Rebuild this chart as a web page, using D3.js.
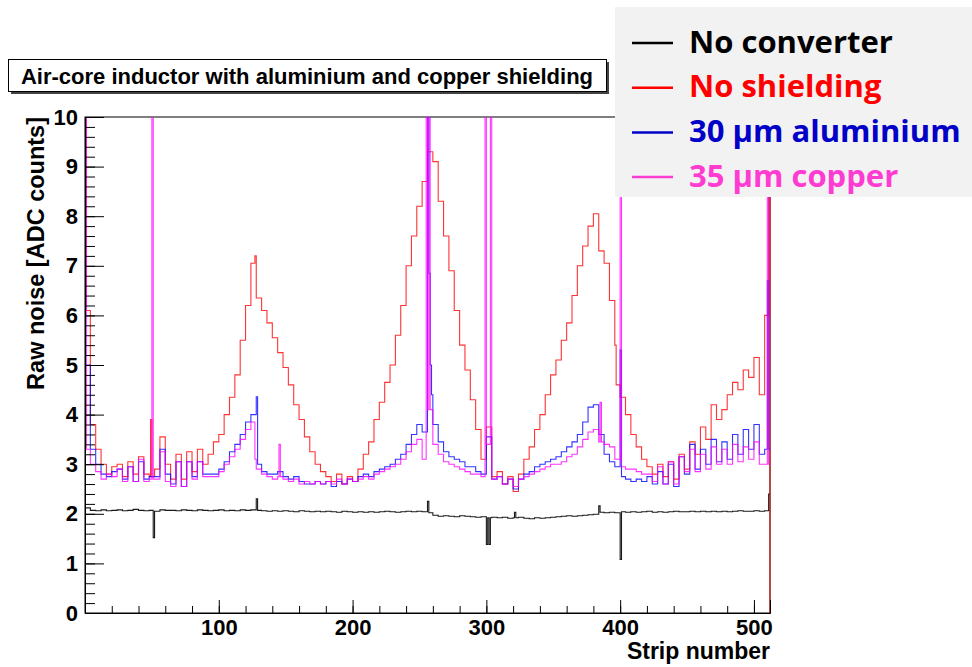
<!DOCTYPE html>
<html>
<head>
<meta charset="utf-8">
<script src="https://cdn.jsdelivr.net/npm/d3@7/dist/d3.min.js"></script>
<style>
  body { margin: 0; background: #fff; }
  svg { display: block; }
</style>
</head>
<body>
<svg id="chart" width="972" height="667"></svg>
<script>
// Raw noise per strip of one sensor, four configurations.
// Each series: mean noise per group of 4 strips, plus single-strip outliers.
const stripRange = [0, 512];
const binWidth = 4;
const xTickValues = [100, 200, 300, 400, 500];
const yTickValues = [0, 1, 2, 3, 4, 5, 6, 7, 8, 9, 10];
const seriesNames = ["No converter", "No shielding", "30 \u00b5m aluminium", "35 \u00b5m copper"];
const seriesColors = ["#000000", "#ff0000", "#0000ff", "#ff00ff"];
const legendTextColors = ["#000000", "#ff0000", "#0000c8", "#ff3cd2"];

const noConverter = [
  2.12, 2.07, 2.06, 2.08, 2.06, 2.07, 2.08, 2.06, 2.07, 2.09, 2.07, 2.06, 2.07, 2.05, 2.08, 2.07,
  2.07, 2.06, 2.08, 2.07, 2.06, 2.08, 2.07, 2.06, 2.07, 2.08, 2.06, 2.07, 2.06, 2.08, 2.07, 2.08,
  2.07, 2.06, 2.05, 2.06, 2.05, 2.06, 2.05, 2.04, 2.06, 2.05, 2.04, 2.05, 2.04, 2.05, 2.04, 2.03,
  2.05, 2.04, 2.03, 2.04, 2.03, 2.04, 2.03, 2.04, 2.05, 2.04, 2.03, 2.04, 2.05, 2.04, 2.05, 2.04,
  2.02, 1.97, 1.95, 1.96, 1.95, 1.94, 1.96, 1.95, 1.94, 1.93, 1.94, 1.92, 1.93, 1.92, 1.93, 1.91,
  1.92, 1.93, 1.91, 1.90, 1.92, 1.91, 1.92, 1.93, 1.94, 1.95, 1.96, 1.95, 1.96, 1.97, 1.98, 1.99,
  2.03, 2.02, 2.03, 2.02, 2.04, 2.03, 2.04, 2.03, 2.04, 2.05, 2.03, 2.04, 2.03, 2.04, 2.05, 2.04,
  2.04, 2.05, 2.04, 2.05, 2.04, 2.05, 2.04, 2.05, 2.04, 2.05, 2.06, 2.05, 2.05, 2.06, 2.05, 2.06
];
const noConverterSpikes = [[51, 1.52], [128, 2.30], [256, 2.25], [300, 1.38], [302, 1.38], [321, 2.03], [384, 2.16], [400, 1.08], [511, 2.40]];

const noShielding = [
  6.10, 3.80, 3.30, 3.00, 2.80, 2.95, 3.00, 2.75, 3.05, 2.80, 3.15, 2.80, 2.75, 2.90, 3.55, 3.00,
  2.70, 3.20, 2.70, 3.25, 2.85, 3.30, 3.00, 3.20, 3.45, 3.60, 4.00, 4.35, 4.80, 5.50, 6.20, 7.05,
  6.35, 6.10, 5.85, 5.55, 5.25, 4.95, 4.60, 4.20, 3.90, 3.55, 3.25, 3.00, 2.85, 2.75, 2.65, 2.80,
  2.60, 2.75, 2.65, 2.90, 3.20, 3.45, 3.90, 4.25, 4.65, 5.00, 5.60, 6.20, 7.00, 7.60, 8.20, 8.70,
  9.30, 9.10, 8.30, 7.60, 6.90, 6.10, 5.40, 4.90, 4.30, 3.70, 3.10, 3.75, 2.75, 2.85, 2.60, 2.75,
  2.45, 2.80, 3.10, 3.35, 3.70, 4.00, 4.40, 4.80, 5.10, 5.50, 5.85, 6.40, 7.00, 7.40, 7.80, 8.05,
  7.30, 7.05, 6.30, 4.60, 4.35, 4.00, 3.60, 3.35, 3.10, 2.95, 2.80, 3.00, 2.75, 3.05, 2.70, 3.20,
  2.90, 3.45, 3.20, 3.75, 3.50, 4.20, 3.90, 4.10, 4.40, 4.65, 4.50, 4.90, 4.75, 5.15, 4.40, 6.00
];
const noShieldingSpikes = [[0, 10.5], [49, 3.9], [127, 7.2], [396, 5.4], [511, 10.5]];

const aluminium30 = [
  5.00, 3.30, 3.00, 2.80, 2.75, 2.85, 2.90, 2.70, 2.95, 2.65, 3.05, 2.70, 2.75, 2.75, 3.30, 2.80,
  2.60, 3.05, 2.55, 3.05, 2.75, 3.05, 2.80, 2.80, 2.80, 2.90, 3.05, 3.25, 3.40, 3.60, 3.85, 4.00,
  3.00, 2.85, 2.80, 2.80, 2.85, 2.75, 2.70, 2.75, 2.65, 2.60, 2.60, 2.65, 2.60, 2.65, 2.55, 2.65,
  2.60, 2.70, 2.65, 2.75, 2.80, 2.75, 2.85, 2.90, 2.95, 3.00, 3.10, 3.20, 3.40, 3.60, 3.80, 3.65,
  4.40, 3.80, 3.45, 3.25, 3.15, 3.10, 3.05, 2.95, 2.95, 2.85, 2.80, 3.55, 2.70, 2.75, 2.60, 2.70,
  2.50, 2.70, 2.80, 2.85, 2.95, 3.00, 3.05, 3.10, 3.15, 3.25, 3.35, 3.45, 3.60, 3.85, 4.15, 4.20,
  3.60, 3.20, 3.05, 2.95, 2.75, 2.70, 2.65, 2.70, 2.65, 2.75, 2.60, 2.85, 2.60, 3.00, 2.55, 3.15,
  2.80, 3.40, 2.90, 3.30, 3.00, 3.50, 3.05, 3.45, 3.10, 3.60, 3.20, 3.70, 3.30, 3.80, 3.20, 3.30
];
const aluminium30Spikes = [[128, 4.36], [256, 10.5], [257, 6.85], [258, 5.0], [400, 5.3], [510, 6.7]];

const copper35 = [
  3.30, 3.00, 2.85, 2.70, 2.80, 2.75, 2.90, 2.65, 2.95, 2.65, 3.10, 2.65, 2.70, 2.70, 3.25, 2.65,
  2.55, 3.05, 2.55, 3.05, 2.70, 3.05, 2.75, 2.75, 2.75, 2.85, 3.00, 3.15, 3.30, 3.50, 3.70, 3.85,
  2.90, 2.80, 2.75, 2.70, 2.75, 2.70, 2.65, 2.70, 2.60, 2.65, 2.60, 2.65, 2.60, 2.65, 2.60, 2.70,
  2.60, 2.70, 2.65, 2.70, 2.75, 2.70, 2.80, 2.85, 2.90, 2.95, 3.00, 3.10, 3.25, 3.40, 3.50, 3.10,
  4.10, 3.40, 3.20, 3.05, 3.00, 2.95, 2.90, 2.85, 2.80, 2.80, 2.75, 3.40, 2.70, 2.75, 2.60, 2.70,
  2.55, 2.70, 2.75, 2.80, 2.85, 2.90, 2.95, 3.00, 3.00, 3.05, 3.15, 3.20, 3.35, 3.50, 3.65, 3.70,
  3.45, 3.40, 3.35, 3.10, 2.95, 2.90, 2.90, 2.85, 2.80, 2.80, 2.65, 2.95, 2.60, 3.05, 2.60, 3.15,
  2.85, 3.30, 2.85, 3.20, 2.90, 3.35, 3.00, 3.30, 3.00, 3.40, 3.05, 3.35, 3.10, 3.45, 3.00, 3.00
];
const copper35Spikes = [[0, 10.5], [50, 10.5], [127, 3.1], [145, 3.4], [255, 10.5], [257, 10.5], [299, 10.5], [303, 10.5], [385, 4.25], [400, 10.5], [510, 10.5]];

// ---- layout ----
const svg = d3.select("#chart");
const plot = { left: 85, right: 770, top: 117, bottom: 613 };
const x = d3.scaleLinear().domain(stripRange).range([plot.left, plot.right]);
const y = d3.scaleLinear().domain([0, 10]).range([plot.bottom, plot.top]);

svg.append("defs").append("clipPath").attr("id", "plot-clip")
  .append("rect")
  .attr("x", plot.left).attr("y", plot.top)
  .attr("width", plot.right - plot.left + 1).attr("height", plot.bottom - plot.top);

// frame
svg.append("rect")
  .attr("x", plot.left).attr("y", plot.top)
  .attr("width", plot.right - plot.left).attr("height", plot.bottom - plot.top)
  .attr("fill", "none").attr("stroke", "#000").attr("stroke-width", 1);

// expand grouped values into per-strip values, then apply single-strip outliers
function perStrip(groups, spikes) {
  const vals = [];
  for (let s = stripRange[0]; s < stripRange[1]; s++) vals.push(groups[Math.floor(s / binWidth)]);
  spikes.forEach(([s, v]) => { vals[s] = v; });
  return vals;
}

const seriesData = [
  perStrip(noConverter, noConverterSpikes),
  perStrip(noShielding, noShieldingSpikes),
  perStrip(aluminium30, aluminium30Spikes),
  perStrip(copper35, copper35Spikes)
];

const step = d3.line()
  .x(d => x(d[0]))
  .y(d => y(d[1]))
  .curve(d3.curveStepAfter);

const gData = svg.append("g").attr("clip-path", "url(#plot-clip)");
seriesData.forEach((vals, i) => {
  const pts = vals.map((v, s) => [s, v]);
  pts.push([stripRange[1], vals[vals.length - 1]]);
  if (i === 1) pts.push([stripRange[1], 0]); // last red bin closes down to the axis
  gData.append("path")
    .attr("d", step(pts))
    .attr("fill", "none")
    .attr("stroke", seriesColors[i])
    .attr("stroke-width", 1.1)
    .attr("stroke-opacity", i === 0 ? 0.9 : 0.8);
});

// ---- axes ----
const tickFont = "bold 22px 'Liberation Sans', Arial, sans-serif";

const yMinor = d3.range(0, 10.001, 0.2).map(v => +v.toFixed(1));
svg.append("g").attr("transform", `translate(${plot.left},0)`)
  .call(d3.axisLeft(y).tickValues(yMinor).tickSize(-10).tickFormat(""))
  .call(g => g.select(".domain").remove());
const yAxis = svg.append("g").attr("transform", `translate(${plot.left},0)`)
  .call(d3.axisLeft(y).tickValues(yTickValues).tickSize(-19).tickPadding(7).tickFormat(d3.format("d")));
yAxis.selectAll("text").style("font", tickFont).attr("fill", "#000");

const xMinor = d3.range(20, 512, 20);
svg.append("g").attr("transform", `translate(0,${plot.bottom})`)
  .call(d3.axisBottom(x).tickValues(xMinor).tickSize(-7).tickFormat(""))
  .call(g => g.select(".domain").remove());
const xAxis = svg.append("g").attr("transform", `translate(0,${plot.bottom})`)
  .call(d3.axisBottom(x).tickValues(xTickValues).tickSize(-13).tickPadding(6).tickFormat(d3.format("d")));
xAxis.selectAll("text").style("font", tickFont).attr("fill", "#000");
svg.selectAll(".tick line").attr("stroke", "#000");
svg.selectAll(".domain").attr("stroke", "#000");

// axis titles
svg.append("text")
  .attr("transform", `translate(44,${plot.top}) rotate(-90)`)
  .attr("text-anchor", "end")
  .style("font", "bold 23.5px 'Liberation Sans', Arial, sans-serif")
  .text("Raw noise [ADC counts]");
svg.append("text")
  .attr("x", plot.right).attr("y", 659)
  .attr("text-anchor", "end")
  .style("font", "bold 23px 'Liberation Sans', Arial, sans-serif")
  .text("Strip number");

// ---- title box ----
const title = svg.append("g");
title.append("rect").attr("x", 11).attr("y", 62).attr("width", 598).attr("height", 32).attr("fill", "#444");
title.append("rect").attr("x", 8.5).attr("y", 59.5).attr("width", 598).attr("height", 32)
  .attr("fill", "#fff").attr("stroke", "#000").attr("stroke-width", 1);
title.append("text")
  .attr("x", 307).attr("y", 83.5)
  .attr("text-anchor", "middle")
  .style("font", "bold 22px 'Liberation Sans', Arial, sans-serif")
  .text("Air-core inductor with aluminium and copper shielding");

// ---- legend ----
const legend = svg.append("g");
legend.append("rect").attr("x", 615).attr("y", 7).attr("width", 357).attr("height", 190).attr("fill", "#f2f2f2");
seriesNames.forEach((name, i) => {
  const ly = 43 + i * 44.7;
  legend.append("line")
    .attr("x1", 632).attr("x2", 673).attr("y1", ly).attr("y2", ly)
    .attr("stroke", legendTextColors[i]).attr("stroke-width", 2.5);
  legend.append("text")
    .attr("x", 689).attr("y", ly + 9.5)
    .attr("fill", legendTextColors[i])
    .style("font", "bold 31px 'Open Sans', Lato, sans-serif")
    .text(name);
});
</script>
</body>
</html>
